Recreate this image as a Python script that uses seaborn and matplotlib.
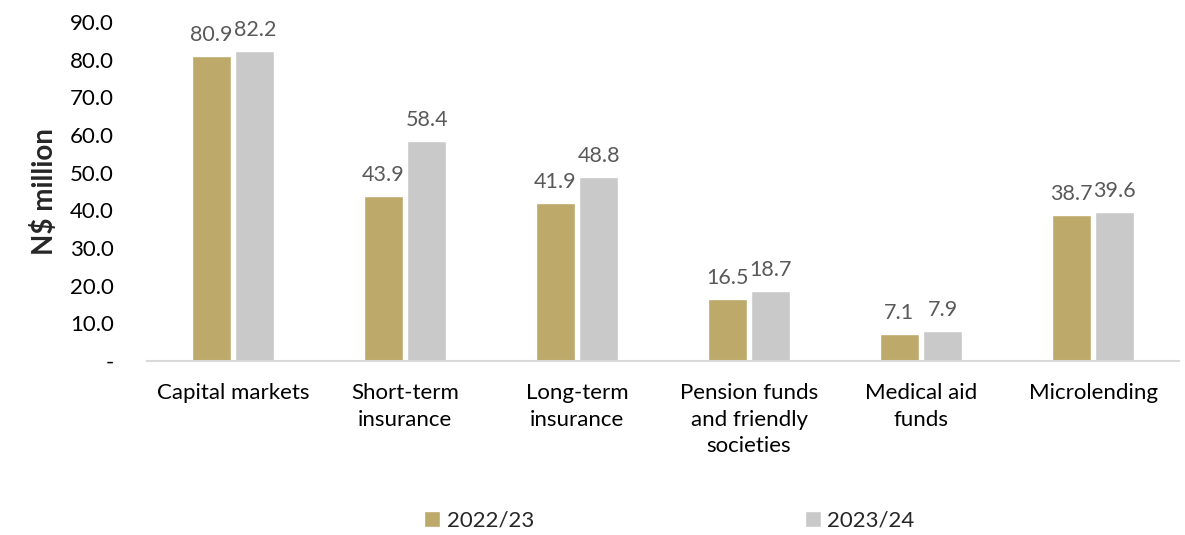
import matplotlib
matplotlib.use("Agg")
import matplotlib.pyplot as plt
import seaborn as sns
import pandas as pd

categories = ["Capital markets", "Short-term\ninsurance", "Long-term\ninsurance",
              "Pension funds\nand friendly\nsocieties", "Medical aid\nfunds", "Microlending"]
years = ["2022/23", "2023/24"]
values_2022 = [80.9, 43.9, 41.9, 16.5, 7.1, 38.7]
values_2023 = [82.2, 58.4, 48.8, 18.7, 7.9, 39.6]
y_ticks = [0, 10, 20, 30, 40, 50, 60, 70, 80, 90]

df = pd.DataFrame({
    "category": categories * 2,
    "year": [years[0]] * len(categories) + [years[1]] * len(categories),
    "value": values_2022 + values_2023,
})

sns.set_theme(style="white")
plt.rcParams["font.family"] = ["Lato", "DejaVu Sans"]

fig = plt.figure(figsize=(11.85, 5.35), dpi=100)
ax = fig.add_axes([0.124, 0.325, 0.871, 0.634])

palette = {"2022/23": "#BDA96A", "2023/24": "#C9C9C9"}
sns.barplot(data=df, x="category", y="value", hue="year", order=categories,
            hue_order=years, palette=palette, width=0.506, gap=0.1,
            saturation=1, ax=ax, legend=True)

for cont in ax.containers:
    ax.bar_label(cont, fmt="%.1f", padding=8, fontsize=15.5, color="#595959")

ax.set_ylim(0, 90)
ax.set_xlim(-0.5, len(categories) - 0.5)
ax.set_yticks(y_ticks)
ax.set_yticklabels(["-"] + [f"{t:.1f}" for t in y_ticks[1:]], fontsize=16, color="#000000")
ax.tick_params(axis="y", length=0, pad=24)
ax.tick_params(axis="x", length=0, pad=16, labelsize=16, labelcolor="#000000")
for lbl in ax.get_xticklabels():
    lbl.set_linespacing(1.4)
ax.set_xlabel("")
ax.set_ylabel("N$ million", fontsize=20, fontweight="bold", labelpad=8)

for side in ["top", "right", "left"]:
    ax.spines[side].set_visible(False)
ax.spines["bottom"].set_color("#D9D9D9")
ax.spines["bottom"].set_linewidth(1.5)

handles, labels = ax.get_legend_handles_labels()
ax.get_legend().remove()
fig.legend(handles, labels, loc="center", bbox_to_anchor=(0.565, 0.027), ncol=2,
           frameon=False, fontsize=16, handlelength=0.7, handleheight=0.7,
           handletextpad=0.3, columnspacing=12.2)

fig.savefig("out.png", dpi=100)
